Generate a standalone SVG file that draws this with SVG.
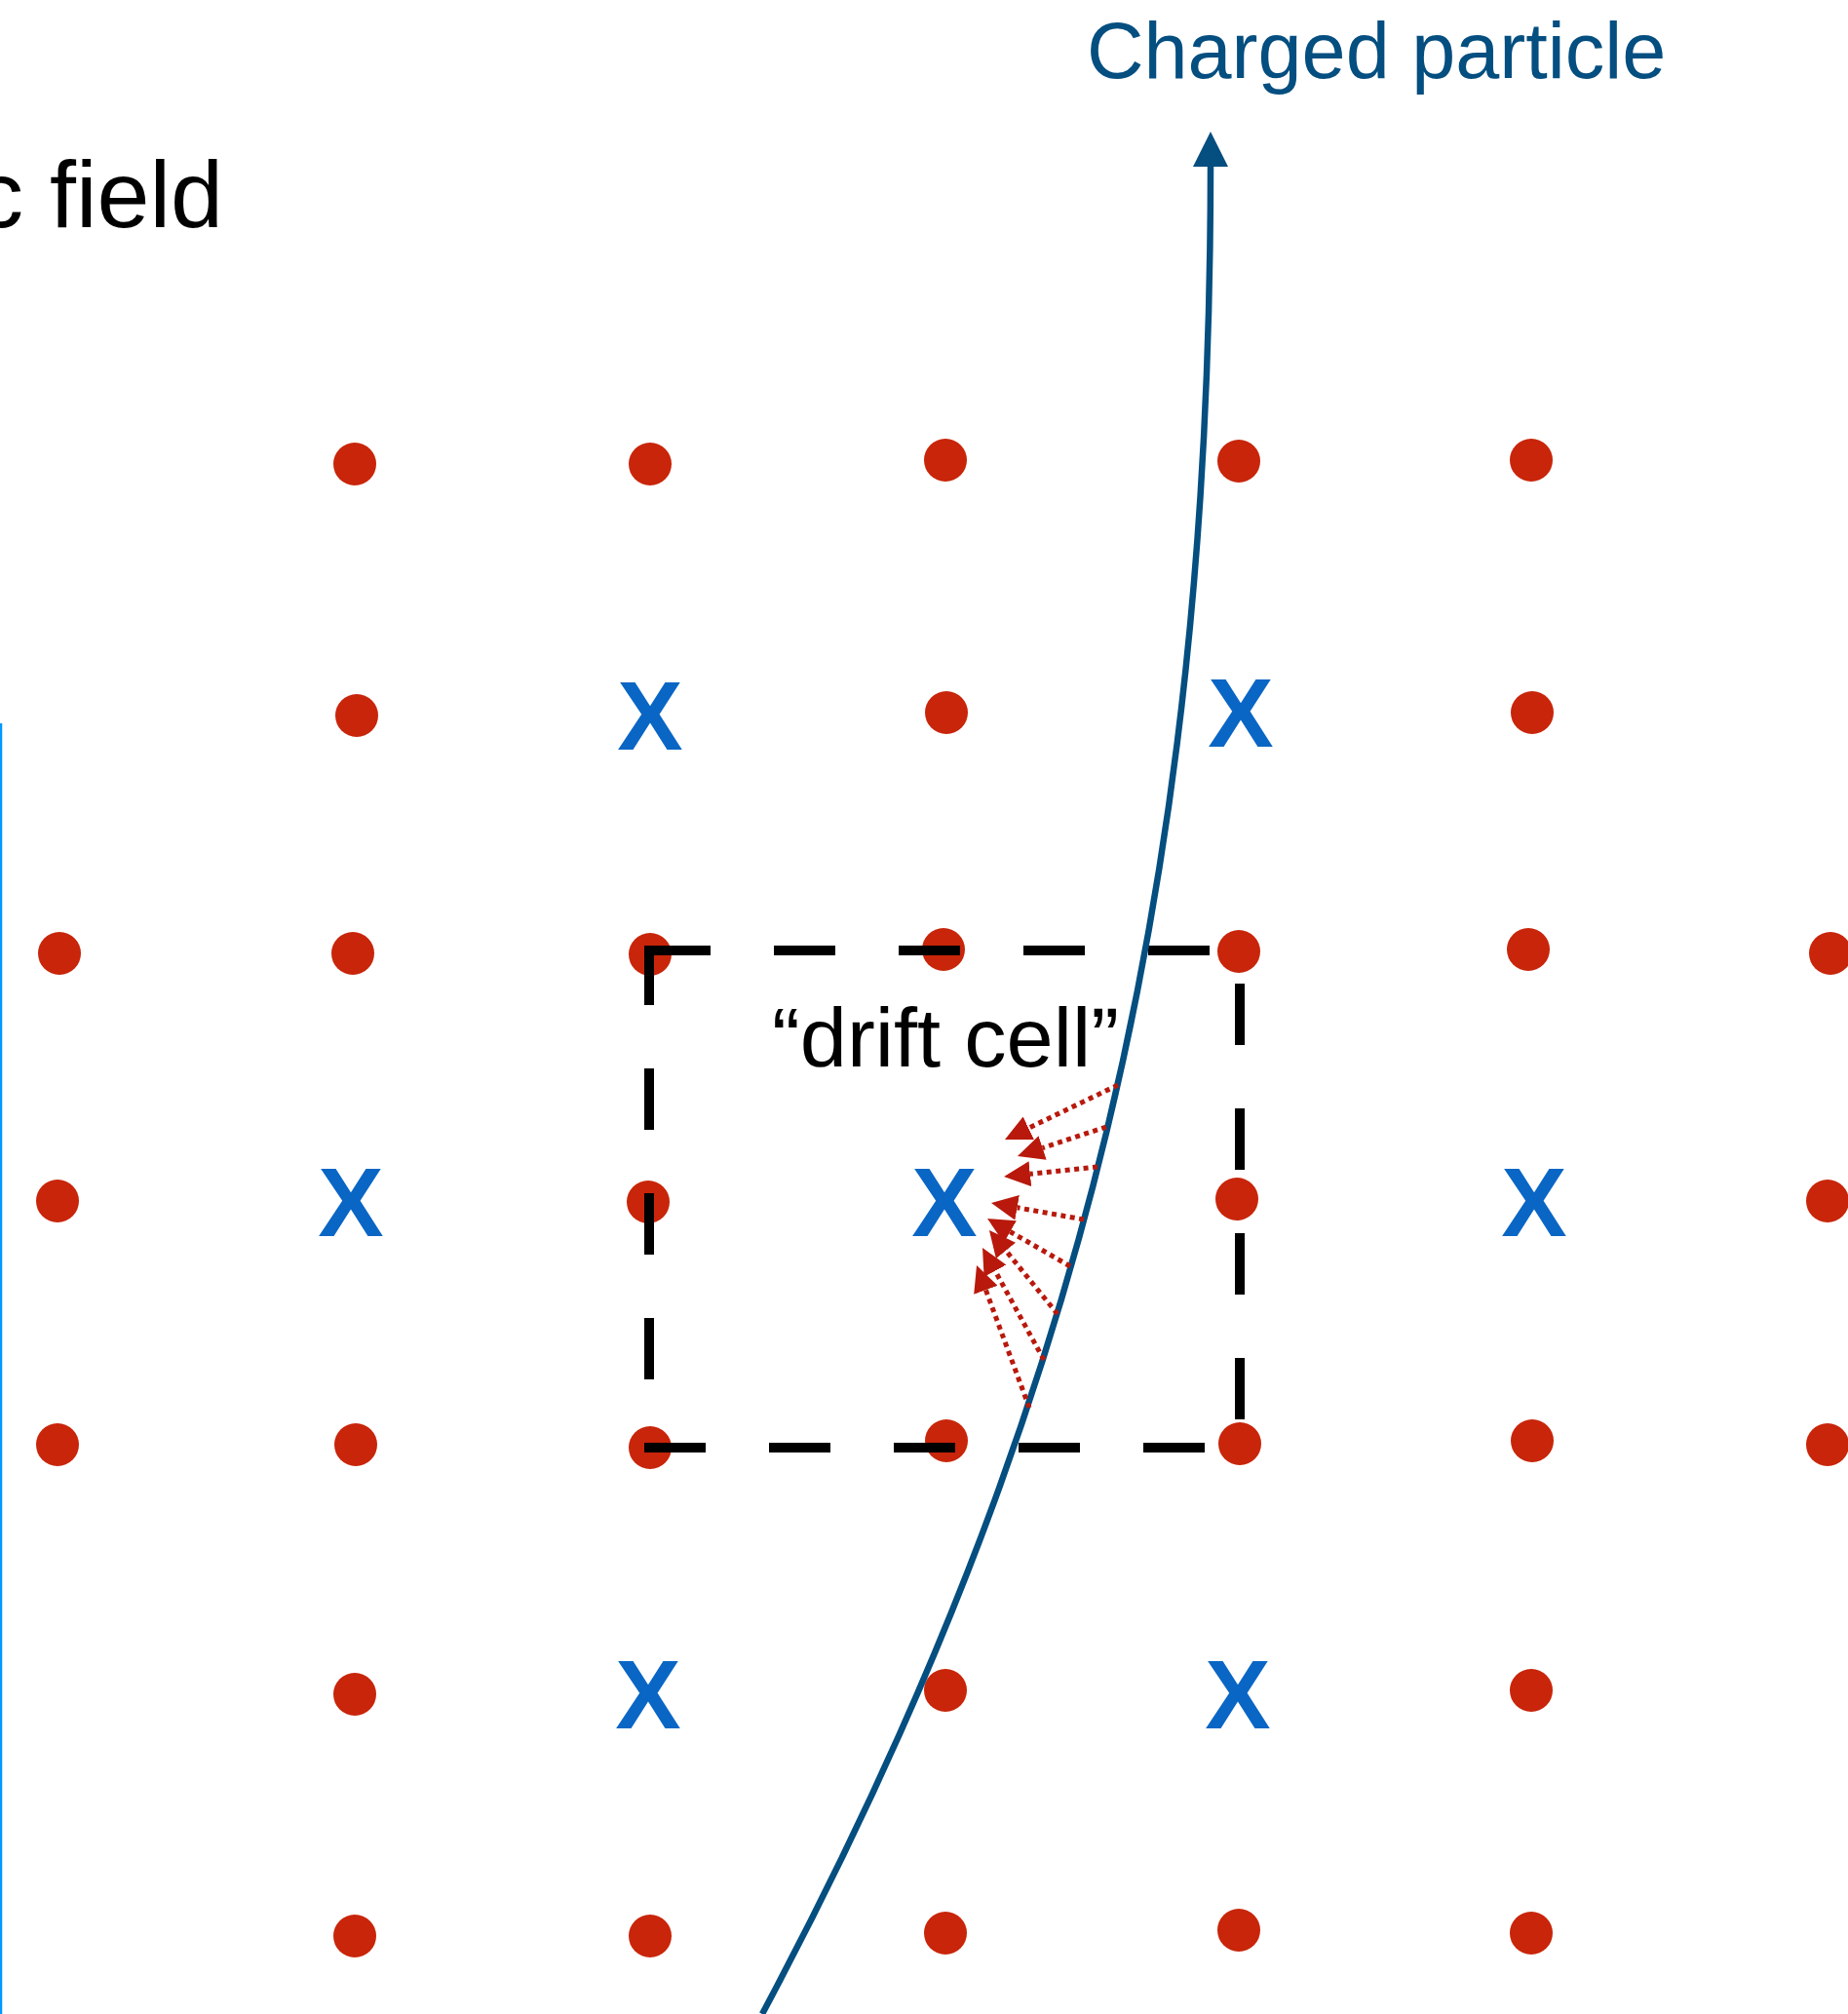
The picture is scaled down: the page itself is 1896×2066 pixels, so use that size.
<svg xmlns="http://www.w3.org/2000/svg" width="1896" height="2066" viewBox="0 0 1896 2066">
<style>
.dot{fill:#C8250A}
.wx{font-family:"Liberation Sans",Arial,sans-serif;font-weight:bold;font-size:101px;fill:#0A66C4;text-anchor:middle}
.lbl{font-family:"Liberation Sans",Arial,sans-serif}
.drift{stroke:#B8190C;stroke-width:5;stroke-dasharray:5 4.5;fill:none}
</style>
<defs>
<marker id="redhead" markerUnits="userSpaceOnUse" viewBox="0 0 27 26" refX="0" refY="13" markerWidth="27" markerHeight="26" orient="auto">
<path d="M0,0 L27,13 L0,26 Z" fill="#B8190C"/>
</marker>
</defs>
<rect width="1896" height="2066" fill="#ffffff"/>
<line id="field-edge" x1="1" y1="742" x2="1" y2="2066" stroke="#0099FF" stroke-width="2.5"/>
<text id="field-label" class="lbl" x="229" y="233" font-size="97" fill="#000000" text-anchor="end">c field</text>
<text id="particle-label" class="lbl" x="1115" y="80" font-size="81" fill="#044E80">Charged particle</text>
<g id="wires-field">
<circle class="dot" cx="364" cy="476" r="22"/>
<circle class="dot" cx="667" cy="476" r="22"/>
<circle class="dot" cx="970" cy="472" r="22"/>
<circle class="dot" cx="1271" cy="473" r="22"/>
<circle class="dot" cx="1571" cy="472" r="22"/>
<circle class="dot" cx="366" cy="734" r="22"/>
<circle class="dot" cx="971" cy="731" r="22"/>
<circle class="dot" cx="1572" cy="731" r="22"/>
<circle class="dot" cx="61" cy="978" r="22"/>
<circle class="dot" cx="362" cy="978" r="22"/>
<circle class="dot" cx="667" cy="979" r="22"/>
<circle class="dot" cx="968" cy="974" r="22"/>
<circle class="dot" cx="1271" cy="976" r="22"/>
<circle class="dot" cx="1568" cy="974" r="22"/>
<circle class="dot" cx="1878" cy="978" r="22"/>
<circle class="dot" cx="59" cy="1232" r="22"/>
<circle class="dot" cx="665" cy="1233" r="22"/>
<circle class="dot" cx="1269" cy="1230" r="22"/>
<circle class="dot" cx="1875" cy="1232" r="22"/>
<circle class="dot" cx="59" cy="1482" r="22"/>
<circle class="dot" cx="365" cy="1482" r="22"/>
<circle class="dot" cx="667" cy="1485" r="22"/>
<circle class="dot" cx="971" cy="1478" r="22"/>
<circle class="dot" cx="1272" cy="1481" r="22"/>
<circle class="dot" cx="1572" cy="1478" r="22"/>
<circle class="dot" cx="1875" cy="1482" r="22"/>
<circle class="dot" cx="364" cy="1738" r="22"/>
<circle class="dot" cx="970" cy="1734" r="22"/>
<circle class="dot" cx="1571" cy="1734" r="22"/>
<circle class="dot" cx="364" cy="1986" r="22"/>
<circle class="dot" cx="667" cy="1986" r="22"/>
<circle class="dot" cx="970" cy="1983" r="22"/>
<circle class="dot" cx="1271" cy="1980" r="22"/>
<circle class="dot" cx="1571" cy="1983" r="22"/>
</g>
<g id="sense-wires">
<text class="wx" x="667" y="769">X</text>
<text class="wx" x="1273" y="766">X</text>
<text class="wx" x="360" y="1268">X</text>
<text class="wx" x="969" y="1268">X</text>
<text class="wx" x="1574" y="1268">X</text>
<text class="wx" x="665" y="1773">X</text>
<text class="wx" x="1270" y="1773">X</text>
</g>
<g id="drift-cell">
<path d="M666,975 H1272 V1485 H666 Z" fill="none" stroke="#000000" stroke-width="10" stroke-dasharray="63 65"/>
<text class="lbl" x="970" y="1094" font-size="85" fill="#000000" text-anchor="middle" textLength="356" lengthAdjust="spacingAndGlyphs">“drift cell”</text>
</g>
<g id="connectors">
<path id="track" d="M1242,170 C1242,900 1111,1450 782,2066" fill="none" stroke="#044E80" stroke-width="6.5"/>
<path d="M1242,135 L1260,171 L1224,171 Z" fill="#044E80"/>
<line class="drift" x1="1147" y1="1113" x2="1055.3" y2="1157.2" marker-end="url(#redhead)"/>
<line class="drift" x1="1135" y1="1156" x2="1069.6" y2="1177.5" marker-end="url(#redhead)"/>
<line class="drift" x1="1126" y1="1197" x2="1056.9" y2="1204.2" marker-end="url(#redhead)"/>
<line class="drift" x1="1112" y1="1251" x2="1043.6" y2="1238.8" marker-end="url(#redhead)"/>
<line class="drift" x1="1098" y1="1299" x2="1036.4" y2="1263.5" marker-end="url(#redhead)"/>
<line class="drift" x1="1085" y1="1348" x2="1032.0" y2="1282.9" marker-end="url(#redhead)"/>
<line class="drift" x1="1071" y1="1395" x2="1021.0" y2="1303.7" marker-end="url(#redhead)"/>
<line class="drift" x1="1056" y1="1444" x2="1011.4" y2="1323.3" marker-end="url(#redhead)"/>
</g>
</svg>
